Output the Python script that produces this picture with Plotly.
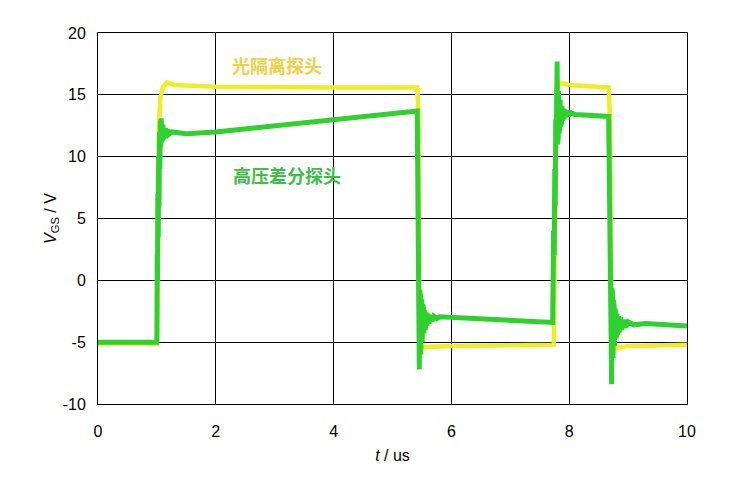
import plotly.graph_objects as go

# Optical isolated probe (yellow)
t_opt = [0, 1.0, 1.015, 1.025, 1.035, 1.06, 1.1, 1.17, 1.3, 2.0, 3.0, 4.0, 5.42, 5.44, 5.46, 5.5, 6.0, 7.0, 7.74,
         7.76, 7.79, 7.83, 8.0, 8.67, 8.69, 8.72, 8.78, 9.0, 10.0]
v_opt = [-5.1, -5.1, 0, 8, 12.5, 14.8, 15.6, 16.0, 15.8, 15.65, 15.6, 15.6, 15.6, 13.5, -5.0, -5.4, -5.3, -5.25, -5.2,
         5, 15.5, 16.0, 15.8, 15.6, 13.3, -5.0, -5.5, -5.3, -5.2]

# High-voltage differential probe (green)
t_hv = [0, 1.0, 1.005, 1.01, 1.016, 1.022, 1.03, 1.036, 1.044, 1.05, 1.06, 1.066, 1.073, 1.08, 1.087, 1.094,
        1.102, 1.11, 1.12, 1.13, 1.145, 1.16, 1.18, 1.2, 1.25, 1.5, 2.0, 3.0, 4.0, 5.0, 5.42,
        5.455, 5.462, 5.468, 5.474, 5.48, 5.486, 5.492, 5.498, 5.504, 5.51, 5.518, 5.526, 5.534, 5.544,
        5.556, 5.57, 5.585, 5.6, 5.62, 5.645, 5.67, 5.7, 5.75, 5.8, 6.0, 7.0, 7.72,
        7.735, 7.745, 7.755, 7.762, 7.772, 7.78, 7.795, 7.802, 7.808, 7.814, 7.82, 7.826, 7.832, 7.838,
        7.845, 7.852, 7.86, 7.868, 7.877, 7.886, 7.896, 7.91, 7.925, 7.94, 7.96, 7.99, 8.03, 8.1, 8.4, 8.67,
        8.72, 8.726, 8.732, 8.738, 8.744, 8.75, 8.756, 8.762, 8.768, 8.775, 8.783, 8.791, 8.8, 8.81, 8.82,
        8.835, 8.85, 8.87, 8.89, 8.92, 8.96, 9.0, 9.1, 9.3, 9.6, 10.0]
v_hv = [-5.0, -5.0, 2, 0, 7, 3.5, 10, 6, 12, 9, 12.9, 10.8, 13.1, 11.2, 12.8, 11.4,
        12.6, 11.5, 12.4, 11.6, 12.3, 11.7, 12.2, 11.8, 12.0, 11.85, 12.0, 12.5, 13.0, 13.5, 13.7,
        -7.2, -0.8, -6.5, -1.2, -6.0, -1.5, -5.5, -1.8, -5.0, -2.0, -4.6, -2.2, -4.3, -2.4,
        -4.0, -2.6, -3.7, -2.7, -3.5, -2.8, -3.3, -2.9, -3.1, -2.95, -3.0, -3.2, -3.4,
        4, 2, 9, 6, 13, 11, 17.7, 11.0, 16.0, 11.5, 15.3, 11.9, 14.9, 12.2,
        14.6, 12.5, 14.3, 12.7, 14.1, 12.9, 13.9, 13.0, 13.8, 13.2, 13.7, 13.3, 13.55, 13.4, 13.35, 13.25,
        -8.4, -0.6, -7.0, -1.2, -6.3, -1.6, -5.8, -2.0, -5.3, -2.3, -5.0, -2.5, -4.7, -2.7, -4.4,
        -2.9, -4.2, -3.0, -4.0, -3.2, -3.8, -3.35, -3.6, -3.5, -3.6, -3.7]

x_ticks = [0, 2, 4, 6, 8, 10]
x_tick_labels = ["0", "2", "4", "6", "8", "10"]
y_ticks = [-10, -5, 0, 5, 10, 15, 20]
y_tick_labels = ["-10", "-5", "0", "5", "10", "15", "20"]

fig = go.Figure()
fig.add_trace(go.Scatter(x=t_opt, y=v_opt, mode="lines", line=dict(color="#EEEE22", width=4.5), showlegend=False))
fig.add_trace(go.Scatter(x=t_hv, y=v_hv, mode="lines", line=dict(color="#2ED12E", width=5), showlegend=False))

fig.add_annotation(x=3.04, y=17.45, text="<b>光隔离探头</b>", showarrow=False, xref="x", yref="y",
                   font=dict(family="Noto Sans CJK SC", size=18, color="#F2CF45"))
fig.add_annotation(x=3.21, y=8.55, text="<b>高压差分探头</b>", showarrow=False, xref="x", yref="y",
                   font=dict(family="Noto Sans CJK SC", size=18, color="#3CBF45"))

axis_common = dict(showline=True, linecolor="black", linewidth=1, mirror=True, showgrid=True,
                   gridcolor="black", gridwidth=1, zeroline=False, ticks="", automargin=False,
                   tickfont=dict(family="Liberation Sans", size=16, color="black"))

fig.update_xaxes(range=[0, 10], tickvals=x_ticks, ticktext=x_tick_labels, ticklabelstandoff=13,
                 title=dict(text="<i>t</i> / us", font=dict(family="Liberation Sans", size=16, color="black"), standoff=10),
                 **axis_common)
fig.update_yaxes(range=[-10, 20], tickvals=y_ticks, ticktext=y_tick_labels, ticklabelstandoff=8,
                 title=dict(text="<i>V</i><sub>GS</sub> / V", font=dict(family="Liberation Sans", size=16, color="black"), standoff=2),
                 **axis_common)

# page body adds an 8px offset, so margins are reduced accordingly
fig.update_layout(width=731, height=503, margin=dict(l=90, r=52, t=25, b=107),
                  plot_bgcolor="white", paper_bgcolor="white")

fig.write_html("out.html")
